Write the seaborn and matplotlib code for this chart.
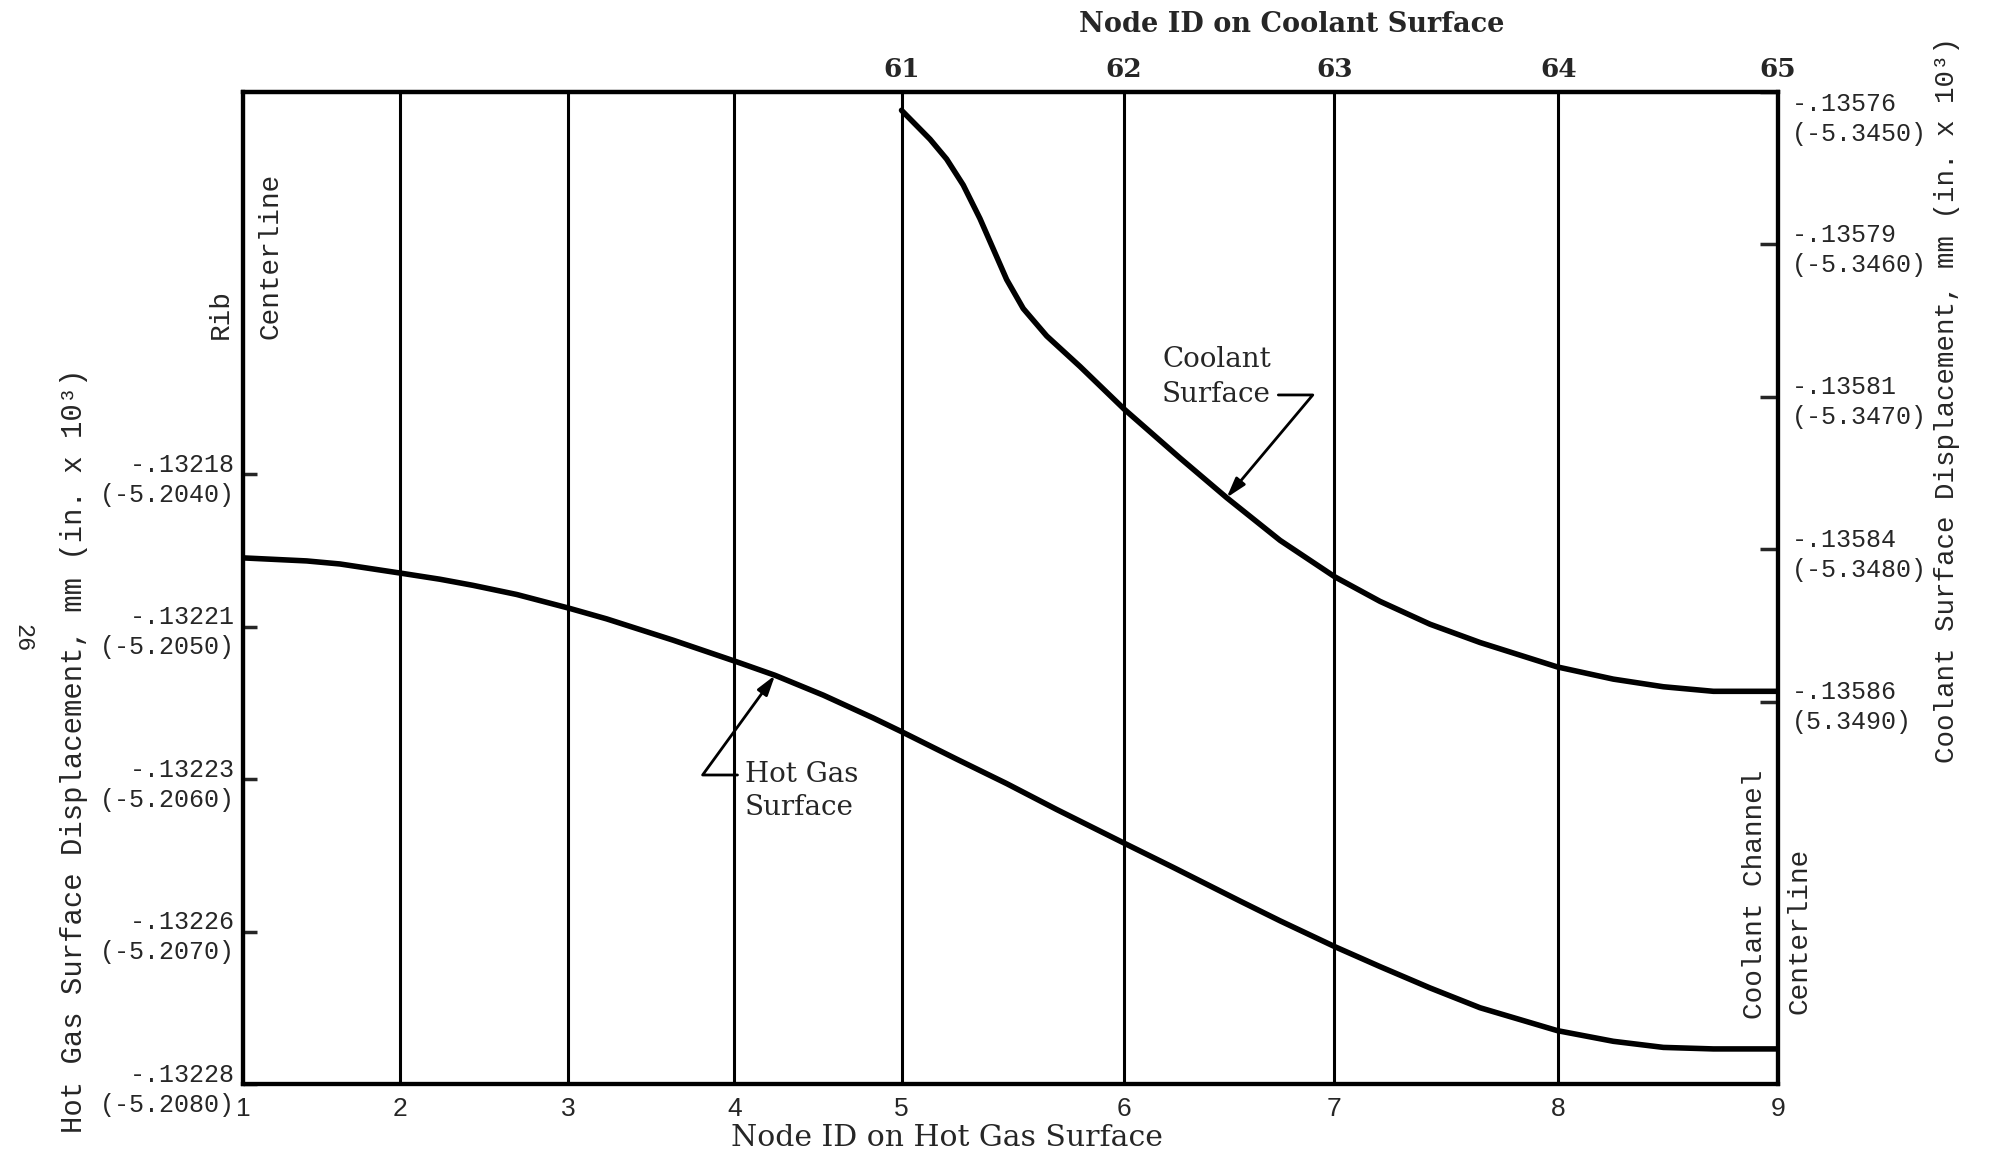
import numpy as np
import matplotlib
matplotlib.use("Agg")
import matplotlib.pyplot as plt
import seaborn as sns

#----------DATA------------#
# node position along the surface (% of half channel pitch)
node_pos      = [0.0, 10.2, 21.2, 32.0, 42.9, 57.4, 71.1, 85.7, 100.0]
hot_nodes     = ["1", "2", "3", "4", "5", "6", "7", "8", "9"]
coolant_nodes = ["61", "62", "63", "64", "65"]
coolant_pos   = node_pos[4:]

# hot gas surface displacement (in. x 10^3)
hot_x = [0.0, 4.15, 6.32, 10.27, 12.83, 14.98, 17.83, 21.24, 23.69, 25.86, 28.03,
         32.12, 34.66, 37.80, 41.06, 42.91, 46.50, 49.75, 53.01, 57.39, 60.61,
         64.95, 67.56, 71.14, 74.07, 77.33, 80.59, 85.62, 89.27, 92.53, 95.79, 100.0]
hot_y = [-5.20455, -5.20457, -5.20459, -5.20465, -5.20469, -5.20473, -5.20479,
         -5.20488, -5.20495, -5.20502, -5.20509, -5.20523, -5.20532, -5.20545,
         -5.20560, -5.20569, -5.20587, -5.20603, -5.20620, -5.20642, -5.20658,
         -5.20680, -5.20693, -5.20710, -5.20723, -5.20737, -5.20750, -5.20765,
         -5.20772, -5.20776, -5.20777, -5.20777]

# coolant surface displacement (in. x 10^3)
coolant_x = [42.9, 44.76, 45.84, 46.92, 48.01, 48.88, 49.75, 50.83, 52.36, 54.53,
             57.41, 61.04, 64.08, 67.56, 71.14, 74.07, 77.33, 80.59, 85.62, 89.27,
             92.53, 95.79, 100.0]
coolant_y = [-5.34512, -5.34531, -5.34544, -5.34561, -5.34583, -5.34603, -5.34623,
             -5.34642, -5.34660, -5.34680, -5.34708, -5.34740, -5.34766, -5.34794,
             -5.34818, -5.34834, -5.34849, -5.34861, -5.34877, -5.34885, -5.34890,
             -5.34893, -5.34893]

hot_ticks      = [-5.2040, -5.2050, -5.2060, -5.2070, -5.2080]
hot_ticks_mm   = ["-.13218", "-.13221", "-.13223", "-.13226", "-.13228"]
hot_ticks_in   = ["(-5.2040)", "(-5.2050)", "(-5.2060)", "(-5.2070)", "(-5.2080)"]
cool_ticks     = [-5.3450, -5.3460, -5.3470, -5.3480, -5.3490]
cool_ticks_mm  = ["-.13576", "-.13579", "-.13581", "-.13584", "-.13586"]
cool_ticks_in  = ["(-5.3450)", "(-5.3460)", "(-5.3470)", "(-5.3480)", "(5.3490)"]

#----------STYLE-----------#
sns.set_style("white")
MONO   = ["Liberation Mono", "DejaVu Sans Mono"]
SERIF  = ["DejaVu Serif"]
NARROW = ["Liberation Sans Narrow", "Liberation Sans", "DejaVu Sans"]
plt.rcParams["font.family"] = SERIF

fig = plt.figure(figsize=(19.9, 11.59), dpi=100)
ax = fig.add_axes([0.12211, 0.06471, 0.77136, 0.85591])
ax2 = ax.twinx()

#----------CURVES----------#
sns.lineplot(x=hot_x, y=hot_y, ax=ax, color="black", lw=4, estimator=None, legend=False)
sns.lineplot(x=coolant_x, y=coolant_y, ax=ax2, color="black", lw=4, estimator=None, legend=False)

ax.set_xlim(0, 100)
ax.set_ylim(-5.2080, -5.201495)
ax2.set_ylim(-5.351505, -5.3450)

# node grid lines
ax.set_xticks(node_pos, hot_nodes, fontfamily=NARROW, fontsize=19)
ax.grid(axis="x", color="black", lw=2.2)
ax.grid(axis="y", visible=False)
ax2.grid(False)
ax.tick_params(axis="x", length=0, pad=9)

ax.set_yticks(hot_ticks, [f"{a}\n{b}" for a, b in zip(hot_ticks_mm, hot_ticks_in)],
              fontfamily=MONO, fontsize=18, linespacing=1.32)
ax.tick_params(axis="y", direction="in", length=10, width=2.5, pad=6, left=True)
ax2.set_yticks(cool_ticks, [f"{a}\n{b}" for a, b in zip(cool_ticks_mm, cool_ticks_in)],
               fontfamily=MONO, fontsize=18, linespacing=1.3)
ax2.tick_params(axis="y", direction="in", length=13, width=2.5, pad=10, right=True)
ax2.get_yticklabels()[0].set_va("top")
ax.set_xlabel("")
ax.set_ylabel("")
ax2.set_ylabel("")

top = ax.secondary_xaxis("top")
top.set_xticks(coolant_pos, coolant_nodes, fontfamily=SERIF, fontsize=19, fontweight="bold")
top.tick_params(length=0, pad=7)
top.spines["top"].set_linewidth(3)

for a in (ax, ax2):
    for s in a.spines.values():
        s.set_linewidth(3)
        s.set_color("black")

#----------LABELS----------#
fig.text(947 / 1990, 1 - 1138 / 1159, "Node ID on Hot Gas Surface",
         ha="center", va="center", fontsize=21.5)
fig.text(1292 / 1990, 1 - 24 / 1159, "Node ID on Coolant Surface",
         ha="center", va="center", fontsize=19.5, fontweight="bold")
fig.text(74 / 1990, 1 - 1133 / 1159, "Hot Gas Surface Displacement, mm (in. x 10³)",
         rotation=90, ha="center", va="bottom", fontsize=20.8, fontfamily=MONO)
fig.text(1947 / 1990, 1 - 763 / 1159, "Coolant Surface Displacement, mm (in. x 10³)",
         rotation=90, ha="center", va="bottom", fontsize=19.8, fontfamily=MONO)
fig.text(23 / 1990, 1 - 638 / 1159, "26", rotation=-90, ha="center", va="center",
         fontsize=17, fontfamily=MONO)

ax.text(-0.0143, 0.751, "Rib", rotation=90, ha="center", va="bottom",
        fontsize=20, fontfamily=MONO, transform=ax.transAxes)
ax.text(0.0176, 0.751, "Centerline", rotation=90, ha="center", va="bottom",
        fontsize=20, fontfamily=MONO, transform=ax.transAxes)
ax.text(0.985, 0.0655, "Coolant Channel", rotation=90, ha="center", va="bottom",
        fontsize=20, fontfamily=MONO, transform=ax.transAxes, clip_on=False)
ax.text(1.0143, 0.0706, "Centerline", rotation=90, ha="center", va="bottom",
        fontsize=20, fontfamily=MONO, transform=ax.transAxes, clip_on=False)

#----------CALLOUTS--------#
arrow = dict(arrowstyle="-|>,head_length=0.6,head_width=0.18", color="black",
             lw=2, mutation_scale=20, shrinkA=3, shrinkB=0)

cool_at = 64.08
ax2.text(0.5987, 0.7308, "Coolant", ha="left", va="center", fontsize=20,
         transform=ax2.transAxes)
ax2.annotate("Surface", xy=(cool_at, np.interp(cool_at, coolant_x, coolant_y)),
             xytext=(0.5987, 0.6946), textcoords="axes fraction",
             ha="left", va="center", fontsize=20,
             arrowprops=dict(arrow, connectionstyle="angle,angleA=0,angleB=50,rad=0"))

hot_at = 34.66
ax.annotate("Hot Gas", xy=(hot_at, np.interp(hot_at, hot_x, hot_y)),
            xytext=(0.327, 0.3115), textcoords="axes fraction",
            ha="left", va="center", fontsize=20,
            arrowprops=dict(arrow, connectionstyle="angle,angleA=0,angleB=54,rad=0"))
ax.text(0.327, 0.2792, "Surface", ha="left", va="center", fontsize=20,
        transform=ax.transAxes)

plt.savefig("out.png", dpi=100)
